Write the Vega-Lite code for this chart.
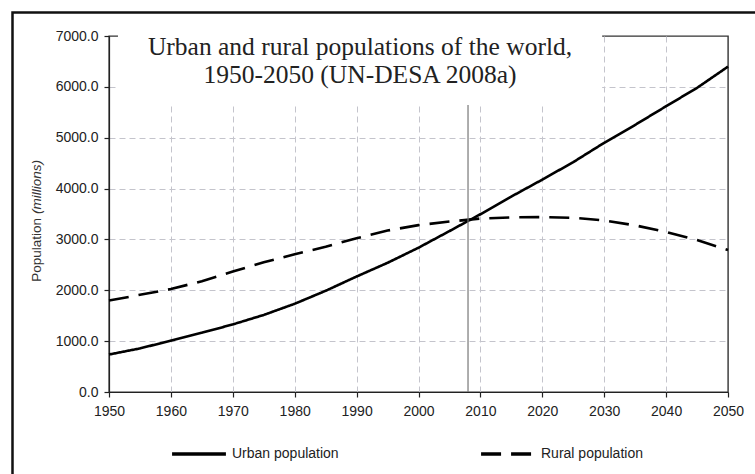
{
  "$schema": "https://vega.github.io/schema/vega-lite/v6.json",
  "width": 619,
  "height": 356,
  "autosize": {"type": "none"},
  "padding": {"left": 109, "top": 36, "right": 27, "bottom": 82},
  "background": "white",
  "config": {
    "view": {"stroke": "#333", "strokeWidth": 1.4},
    "axis": {
      "labelFont": "Liberation Sans",
      "labelFontSize": 14,
      "labelColor": "#222",
      "domainColor": "#222",
      "tickColor": "#222",
      "domainWidth": 1.2,
      "tickWidth": 1.2,
      "gridColor": "#c4c4cc",
      "gridDash": [6, 4],
      "gridWidth": 1,
      "title": null
    }
  },
  "layer": [
    {
      "data": {
        "values": [
          {"series": "Urban population", "year": 1950, "population": 737},
          {"series": "Urban population", "year": 1955, "population": 857},
          {"series": "Urban population", "year": 1960, "population": 1010},
          {"series": "Urban population", "year": 1965, "population": 1165},
          {"series": "Urban population", "year": 1970, "population": 1329},
          {"series": "Urban population", "year": 1975, "population": 1515},
          {"series": "Urban population", "year": 1980, "population": 1735},
          {"series": "Urban population", "year": 1985, "population": 1990},
          {"series": "Urban population", "year": 1990, "population": 2271},
          {"series": "Urban population", "year": 1995, "population": 2540},
          {"series": "Urban population", "year": 2000, "population": 2837},
          {"series": "Urban population", "year": 2005, "population": 3164},
          {"series": "Urban population", "year": 2010, "population": 3495},
          {"series": "Urban population", "year": 2015, "population": 3843},
          {"series": "Urban population", "year": 2020, "population": 4176},
          {"series": "Urban population", "year": 2025, "population": 4520},
          {"series": "Urban population", "year": 2030, "population": 4900},
          {"series": "Urban population", "year": 2035, "population": 5252},
          {"series": "Urban population", "year": 2040, "population": 5619},
          {"series": "Urban population", "year": 2045, "population": 5980},
          {"series": "Urban population", "year": 2050, "population": 6398},
          {"series": "Rural population", "year": 1950, "population": 1798},
          {"series": "Rural population", "year": 1955, "population": 1911},
          {"series": "Rural population", "year": 1960, "population": 2024},
          {"series": "Rural population", "year": 1965, "population": 2178},
          {"series": "Rural population", "year": 1970, "population": 2368},
          {"series": "Rural population", "year": 1975, "population": 2551},
          {"series": "Rural population", "year": 1980, "population": 2709},
          {"series": "Rural population", "year": 1985, "population": 2855},
          {"series": "Rural population", "year": 1990, "population": 3024},
          {"series": "Rural population", "year": 1995, "population": 3174},
          {"series": "Rural population", "year": 2000, "population": 3281},
          {"series": "Rural population", "year": 2005, "population": 3351},
          {"series": "Rural population", "year": 2010, "population": 3411},
          {"series": "Rural population", "year": 2015, "population": 3434},
          {"series": "Rural population", "year": 2020, "population": 3439},
          {"series": "Rural population", "year": 2025, "population": 3425},
          {"series": "Rural population", "year": 2030, "population": 3374},
          {"series": "Rural population", "year": 2035, "population": 3276},
          {"series": "Rural population", "year": 2040, "population": 3147},
          {"series": "Rural population", "year": 2045, "population": 2987},
          {"series": "Rural population", "year": 2050, "population": 2793}
        ]
      },
      "mark": {"type": "line", "color": "black", "strokeWidth": 2.6},
      "encoding": {
        "x": {
          "field": "year",
          "type": "quantitative",
          "scale": {"domain": [1950, 2050], "nice": false, "zero": false},
          "axis": {
            "values": [1950, 1955, 1960, 1965, 1970, 1975, 1980, 1985, 1990, 1995, 2000, 2005, 2010, 2015, 2020, 2025, 2030, 2035, 2040, 2045, 2050],
            "labelExpr": "datum.value % 10 === 0 ? datum.value : ''",
            "tickSize": 5,
            "labelPadding": 7,
            "labelFlush": false,
            "gridOpacity": {"condition": {"test": "datum.value % 10 !== 0 || datum.value === 1950 || datum.value === 2050", "value": 0}, "value": 1}
          }
        },
        "y": {
          "field": "population",
          "type": "quantitative",
          "scale": {"domain": [0, 7000], "nice": false},
          "axis": {
            "values": [0, 1000, 2000, 3000, 4000, 5000, 6000, 7000],
            "format": ".1f",
            "tickSize": 5,
            "labelPadding": 6,
            "labelFlush": false,
            "gridOpacity": {"condition": {"test": "datum.value === 0 || datum.value === 7000", "value": 0}, "value": 1}
          }
        },
        "strokeDash": {
          "field": "series",
          "type": "nominal",
          "scale": {"domain": ["Urban population", "Rural population"], "range": [[1, 0], [20, 10]]},
          "legend": {
            "orient": "none",
            "legendX": 61,
            "legendY": 389,
            "direction": "horizontal",
            "title": null,
            "symbolType": "stroke",
            "symbolSize": 2900,
            "symbolStrokeWidth": 3.5,
            "symbolStrokeColor": "black",
            "labelFont": "Liberation Sans",
            "labelFontSize": 14,
            "labelColor": "#222",
            "labelOffset": 4,
            "columnPadding": 135,
            "padding": 0,
            "labelLimit": 300
          }
        }
      }
    },
    {
      "data": {"values": [{}]},
      "mark": {"type": "rule", "color": "#777", "strokeWidth": 1.2},
      "encoding": {"x": {"datum": 2008}, "y": {"datum": 0}, "y2": {"datum": 7000}}
    },
    {
      "data": {"values": [{}]},
      "mark": {"type": "rect", "fill": "white"},
      "encoding": {"x": {"datum": 1951.45}, "x2": {"datum": 2029.67}, "y": {"datum": 5643}, "y2": {"datum": 7040}}
    },
    {
      "data": {"values": [{}]},
      "mark": {
        "type": "text",
        "text": ["Urban and rural populations of the world,", "1950-2050 (UN-DESA 2008a)"],
        "font": "Liberation Serif",
        "fontSize": 25.5,
        "lineHeight": 28.4,
        "align": "center",
        "baseline": "alphabetic",
        "color": "#222"
      },
      "encoding": {"x": {"datum": 1990.55}, "y": {"datum": 6636}}
    },
    {
      "data": {"values": [{}]},
      "mark": {"type": "text", "text": "Population", "font": "Liberation Sans", "fontSize": 13.5, "angle": 270, "align": "right", "baseline": "middle", "dx": -2, "color": "#333", "clip": false},
      "encoding": {"x": {"datum": 1938.37}, "y": {"datum": 3460}}
    },
    {
      "data": {"values": [{}]},
      "mark": {"type": "text", "text": "(millions)", "font": "Liberation Sans", "fontSize": 13.5, "fontStyle": "italic", "angle": 270, "align": "left", "baseline": "middle", "dx": 2, "color": "#333", "clip": false},
      "encoding": {"x": {"datum": 1938.37}, "y": {"datum": 3460}}
    },
    {
      "data": {"values": [{}]},
      "mark": {"type": "rect", "filled": false, "stroke": "#111", "strokeWidth": 2.5, "clip": false},
      "encoding": {"x": {"datum": 1934.41}, "x2": {"datum": 2070}, "y": {"datum": -2500}, "y2": {"datum": 7462}}
    }
  ]
}
